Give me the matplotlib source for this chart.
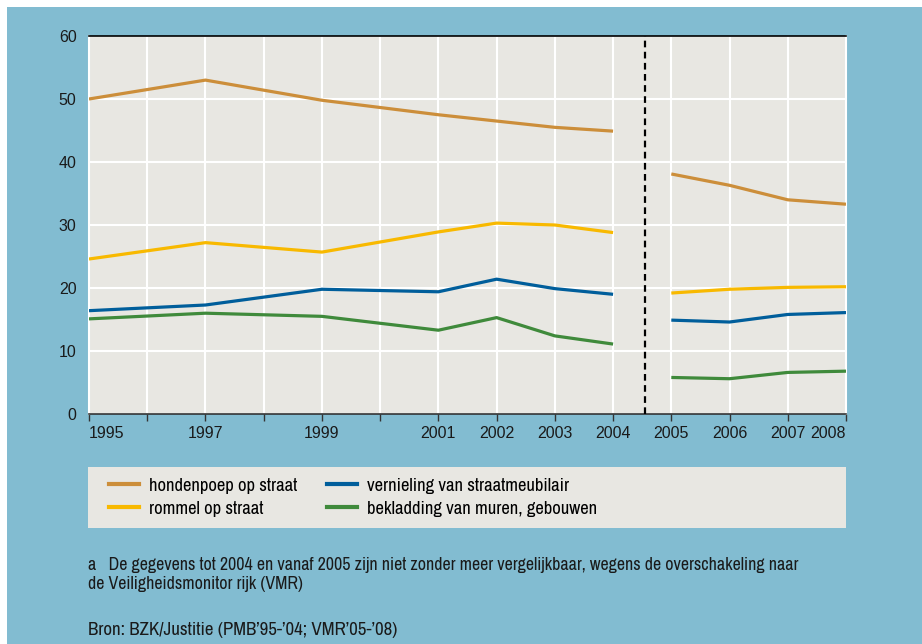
import matplotlib
matplotlib.use("Agg")
import matplotlib.pyplot as plt
from matplotlib.patches import Rectangle
from matplotlib.lines import Line2D

# data (percentages)
years_old = [1995, 1997, 1999, 2001, 2002, 2003, 2004]
years_new = [2005, 2006, 2007, 2008]

hondenpoep_old = [50.0, 53.0, 49.8, 47.5, 46.5, 45.5, 44.9]
hondenpoep_new = [38.1, 36.3, 34.0, 33.3]
rommel_old = [24.6, 27.2, 25.7, 28.9, 30.3, 30.0, 28.8]
rommel_new = [19.2, 19.8, 20.1, 20.2]
vernieling_old = [16.4, 17.3, 19.8, 19.4, 21.4, 19.9, 19.0]
vernieling_new = [14.9, 14.6, 15.8, 16.1]
bekladding_old = [15.1, 16.0, 15.5, 13.3, 15.3, 12.4, 11.1]
bekladding_new = [5.8, 5.6, 6.6, 6.8]

labels = ["hondenpoep op straat", "rommel op straat",
          "vernieling van straatmeubilair", "bekladding van muren, gebouwen"]
colors = ["#cc8e3a", "#f8b900", "#005e9b", "#3f8a3b"]

tick_years = list(range(1995, 2009))
tick_labels = ["" if y in (1996, 1998, 2000) else str(y) for y in tick_years]
break_year = 2004.55

footnote_lines = ["a   De gegevens tot 2004 en vanaf 2005 zijn niet zonder meer vergelijkbaar, wegens de overschakeling naar",
                  "de Veiligheidsmonitor rijk (VMR)"]
source = "Bron: BZK/Justitie (PMB\u201995-\u201904; VMR\u201905-\u201908)"

BLUE = "#82bcd1"
PANEL = "#e8e7e2"
narrow = ["Archivo Narrow", "Liberation Sans"]

fig = plt.figure(figsize=(9.22, 6.44), dpi=100)
fig.patch.set_facecolor("white")
fig.add_artist(Rectangle((7 / 922, 0), 1, 1 - 7 / 644, transform=fig.transFigure,
                         facecolor=BLUE, edgecolor="none", zorder=0))

ax = fig.add_axes([89 / 922, 1 - 414 / 644, (846 - 89) / 922, (414 - 36) / 644])
ax.set_facecolor(PANEL)

series = [(hondenpoep_old, hondenpoep_new), (rommel_old, rommel_new),
          (vernieling_old, vernieling_new), (bekladding_old, bekladding_new)]
for (old, new), c in zip(series, colors):
    ax.plot(years_old, old, color=c, lw=2.3, solid_capstyle="butt", zorder=3)
    ax.plot(years_new, new, color=c, lw=2.3, solid_capstyle="butt", zorder=3)

# break between the two survey series
ax.axvline(break_year, color="black", lw=1.6, ls=(0, (3, 2)), zorder=4)

ax.set_xlim(1995, 2008)
ax.set_ylim(0, 60)
ax.set_xticks(tick_years)
ax.set_xticklabels(tick_labels, fontsize=11.5, family="Liberation Sans", color="#1a1a1a")
xl = ax.get_xticklabels()
xl[0].set_ha("left")
xl[-1].set_ha("right")
ax.set_yticks(range(0, 61, 10))
ax.set_yticklabels([str(v) for v in range(0, 61, 10)], fontsize=11.5,
                   family="Liberation Sans", color="#1a1a1a")
ax.tick_params(axis="y", length=0, pad=9)
ax.tick_params(axis="x", length=5, width=1, color="#333333", pad=4)
ax.grid(True, color="white", lw=1.5, zorder=1)
ax.set_axisbelow(True)
for s in ("left", "right"):
    ax.spines[s].set_color("white")
    ax.spines[s].set_linewidth(1.5)
ax.spines["top"].set_color("black")
ax.spines["top"].set_linewidth(1.2)
ax.spines["bottom"].set_color("#333333")
ax.spines["bottom"].set_linewidth(1.2)

# legend panel
fig.add_artist(Rectangle((88 / 922, 1 - 528 / 644), (846 - 88) / 922, 61 / 644,
                         transform=fig.transFigure, facecolor=PANEL, edgecolor="none", zorder=1))
handles = [Line2D([], [], color=c, lw=3) for c in colors]
leg = fig.legend(handles, labels,
                 ncol=2, loc="upper left", bbox_to_anchor=(92 / 922, 1 - 461 / 644),
                 frameon=False, handlelength=1.6, handletextpad=0.55, columnspacing=1.6,
                 labelspacing=0.36, prop={"family": narrow, "size": 13.4})

fig.text(88 / 922, 1 - 565 / 644, footnote_lines[0], fontsize=12.9, family=narrow,
         color="#1a1a1a", va="center")
fig.text(88 / 922, 1 - 584 / 644, footnote_lines[1], fontsize=12.9, family=narrow,
         color="#1a1a1a", va="center")
fig.text(88 / 922, 1 - 630 / 644, source, fontsize=13.6, family=narrow,
         color="#1a1a1a", va="center")

fig.savefig("out.png", dpi=100, facecolor=fig.get_facecolor())
